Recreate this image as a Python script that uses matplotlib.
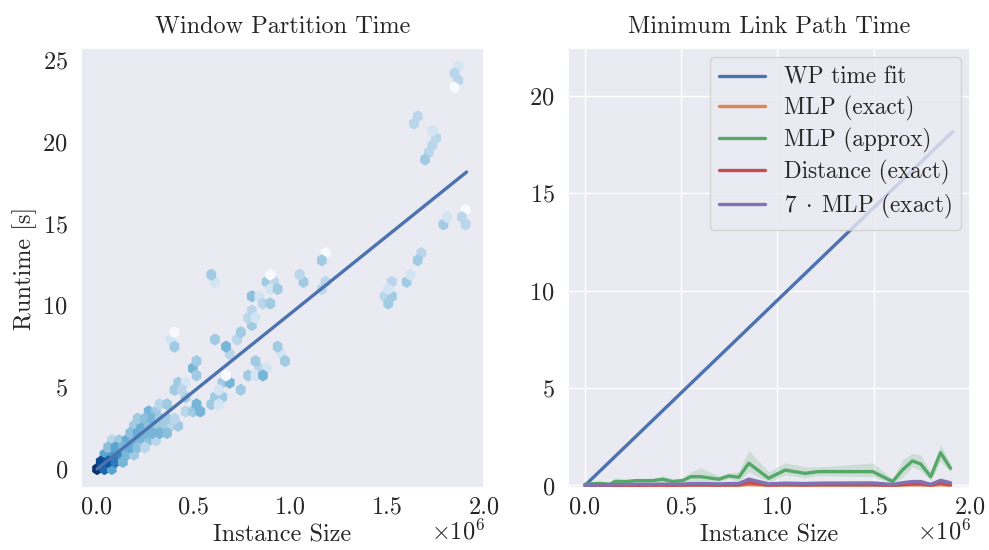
import numpy as np
import matplotlib
matplotlib.use("Agg")
import matplotlib.pyplot as plt
import seaborn as sns
from matplotlib.colors import LogNorm

# ---------------- data ----------------
# hexbin cells of the left panel: instance size (x 1e6), runtime [s], count
hex_x = [0.000, 0.038, 0.076,
         0.019, 0.057, 0.095, 0.133,
         0.038, 0.076, 0.114, 0.152, 0.190,
         0.057, 0.095, 0.133, 0.171, 0.210, 0.248,
         0.076, 0.114, 0.152, 0.190, 0.229, 0.267, 0.305,
         0.171, 0.210, 0.248, 0.286, 0.324, 0.362,
         0.190, 0.229, 0.267, 0.305, 0.343, 0.381, 0.419,
         0.210, 0.248, 0.286, 0.324, 0.362, 0.400,
         0.267, 0.305, 0.457, 0.495, 0.533,
         0.324, 0.362, 0.514, 0.590, 0.629,
         0.457, 0.610, 0.648,
         0.400, 0.438, 0.629, 0.743,
         0.419, 0.457, 0.648, 0.686,
         0.514, 0.667, 0.781, 0.819, 0.857,
         0.495, 0.838, 0.876,
         0.514, 0.819, 0.971,
         0.686, 0.952,
         0.400, 0.667, 0.933,
         0.381, 0.610, 0.724,
         0.400, 0.743,
         0.800,
         0.781, 0.819,
         0.800,
         0.857, 0.895,
         0.800, 0.838,
         0.895, 0.933, 1.162,
         0.610, 0.876, 0.914, 1.067, 1.181,
         0.590, 0.895, 1.048,
         1.162, 1.181,
         1.679, 1.660, 1.622, 1.601, 1.527, 1.507, 1.485, 1.527, 1.507,
         1.905, 1.811, 1.888, 1.794, 1.905,
         1.660, 1.639, 1.737, 1.759, 1.737, 1.716, 1.699,
         1.871, 1.850, 1.871, 1.850]
hex_y = [0.00, 0.00, 0.00,
         0.44, 0.44, 0.44, 0.44,
         0.88, 0.88, 0.88, 0.88, 0.88,
         1.32, 1.32, 1.32, 1.32, 1.32, 1.32,
         1.76, 1.76, 1.76, 1.76, 1.76, 1.76, 1.76,
         2.20, 2.20, 2.20, 2.20, 2.20, 2.20,
         2.64, 2.64, 2.64, 2.64, 2.64, 2.64, 2.64,
         3.08, 3.08, 3.08, 3.08, 3.08, 3.08,
         3.52, 3.52, 3.52, 3.52, 3.52,
         3.96, 3.96, 3.96, 3.96, 3.96,
         4.40, 4.40, 4.40,
         4.84, 4.84, 4.84, 4.84,
         5.28, 5.28, 5.28, 5.28,
         5.72, 5.72, 5.72, 5.72, 5.72,
         6.16, 6.16, 6.16,
         6.60, 6.60, 6.60,
         7.04, 7.04,
         7.48, 7.48, 7.48,
         7.92, 7.92, 7.92,
         8.36, 8.36,
         8.80,
         9.24, 9.24,
         9.68,
         10.12, 10.12,
         10.56, 10.56,
         11.00, 11.00, 11.00,
         11.44, 11.44, 11.44, 11.44, 11.44,
         11.88, 11.88, 11.88,
         12.76, 13.20,
         13.18, 12.73, 11.86, 11.39, 11.41, 10.94, 10.53, 10.53, 10.07,
         15.83, 15.38, 15.38, 14.91, 14.91,
         21.58, 21.09, 20.68, 20.21, 19.76, 19.34, 18.93,
         24.63, 24.18, 23.74, 23.31]
hex_n = [60, 20, 8,
         30, 25, 15, 6,
         8, 10, 12, 6, 4,
         5, 8, 6, 7, 5, 3,
         3, 4, 7, 6, 6, 5, 3,
         5, 7, 6, 6, 6, 5,
         4, 7, 5, 4, 4, 3, 4,
         4, 5, 6, 4, 4, 3,
         6, 4, 3, 4, 6,
         3, 4, 6, 4, 2,
         4, 4, 4,
         4, 3, 2, 4,
         4, 2, 4, 6,
         4, 1, 4, 2, 6,
         6, 3, 2,
         4, 4, 4,
         3, 2,
         4, 6, 4,
         2, 4, 3,
         1, 4,
         4,
         3, 2,
         3,
         3, 4,
         5, 2,
         2, 4, 3,
         2, 4, 3, 4, 3,
         4, 1, 3,
         4, 1,
         3, 4, 2, 4, 3, 2, 3, 4, 4,
         1, 2, 3, 4, 3,
         3, 3, 2, 3, 3, 3, 4,
         2, 3, 3, 1]

# linear fit of the window partition time
fit_x = [0.0, 1.91]
fit_y = [0.0, 18.15]

# right panel series (instance size x 1e6)
mlp_x = [0.000, 0.077, 0.129, 0.155, 0.215, 0.266, 0.352, 0.404, 0.455, 0.507,
         0.550, 0.601, 0.696, 0.747, 0.799, 0.851, 0.954, 1.040, 1.143, 1.211,
         1.495, 1.598, 1.649, 1.701, 1.744, 1.796, 1.847, 1.899]
approx = [0.06, 0.11, 0.06, 0.20, 0.20, 0.25, 0.25, 0.32, 0.20, 0.25,
          0.45, 0.45, 0.32, 0.49, 0.42, 1.14, 0.37, 0.79, 0.62, 0.71,
          0.71, 0.20, 0.79, 1.26, 1.10, 0.45, 1.68, 0.88]
approx_hi = [0.06, 0.15, 0.12, 0.40, 0.32, 0.35, 0.35, 0.50, 0.35, 0.40,
             0.70, 0.90, 0.50, 0.65, 0.70, 1.79, 0.70, 1.17, 0.95, 0.95,
             1.15, 0.35, 1.30, 1.65, 1.55, 0.70, 2.08, 1.10]
approx_lo = [0.06, 0.07, 0.02, 0.05, 0.10, 0.15, 0.15, 0.18, 0.08, 0.12,
             0.25, 0.22, 0.18, 0.35, 0.20, 0.71, 0.15, 0.54, 0.40, 0.50,
             0.45, 0.10, 0.40, 0.97, 0.75, 0.25, 1.22, 0.70]
mlp7 = [0.00, 0.03, 0.03, 0.05, 0.05, 0.06, 0.06, 0.07, 0.06, 0.07,
        0.10, 0.10, 0.08, 0.10, 0.10, 0.32, 0.08, 0.12, 0.10, 0.12,
        0.13, 0.05, 0.14, 0.20, 0.20, 0.06, 0.26, 0.14]
mlp7_hi = [0.00, 0.06, 0.06, 0.10, 0.10, 0.11, 0.11, 0.13, 0.11, 0.12,
           0.17, 0.17, 0.14, 0.17, 0.17, 0.48, 0.14, 0.19, 0.17, 0.19,
           0.21, 0.10, 0.23, 0.32, 0.30, 0.11, 0.40, 0.22]
mlp7_lo = [0.00, 0.01, 0.01, 0.02, 0.02, 0.02, 0.02, 0.03, 0.02, 0.03,
           0.05, 0.05, 0.03, 0.05, 0.05, 0.18, 0.03, 0.06, 0.05, 0.06,
           0.07, 0.02, 0.07, 0.10, 0.11, 0.02, 0.14, 0.07]
mlp_exact = [0.000, 0.004, 0.004, 0.007, 0.007, 0.009, 0.009, 0.010, 0.009, 0.010,
             0.014, 0.014, 0.011, 0.014, 0.014, 0.046, 0.011, 0.017, 0.014, 0.017,
             0.019, 0.007, 0.020, 0.029, 0.029, 0.009, 0.037, 0.020]
dist = [0.00, 0.01, 0.01, 0.01, 0.01, 0.01, 0.02, 0.02, 0.01, 0.02,
        0.03, 0.03, 0.02, 0.03, 0.03, 0.15, 0.02, 0.04, 0.03, 0.04,
        0.04, 0.01, 0.05, 0.08, 0.08, 0.02, 0.12, 0.02]

legend_labels = ["WP time fit", "MLP (exact)", "MLP (approx)",
                 "Distance (exact)", r"$7\;\cdot\;\mathrm{MLP}$ (exact)"]
x_tick_vals = [0, 0.5, 1.0, 1.5, 2.0]
offset_label = r"$\times10^{6}$"

# ---------------- style ----------------
sns.set_theme(style="darkgrid")
plt.rcParams["font.family"] = ["cmr10", "DejaVu Serif"]
plt.rcParams["mathtext.fontset"] = "cm"
plt.rcParams["axes.formatter.use_mathtext"] = True
plt.rcParams["axes.unicode_minus"] = False

pal = sns.color_palette("deep")
FS = 17.5

fig = plt.figure(figsize=(9.89, 5.5), dpi=100)
ax1 = fig.add_axes([81 / 989, 1 - 488 / 550, 403 / 989, 440 / 550])
ax2 = fig.add_axes([568 / 989, 1 - 488 / 550, 402 / 989, 440 / 550])

S = 1e6
hx = np.array(hex_x) * S
hy = np.array(hex_y)
hn = np.array(hex_n, dtype=float)

ax1.hexbin(hx, hy, C=hn, reduce_C_function=np.sum, gridsize=50,
           extent=(0, 1.905 * S, 0, 24.63), cmap="Blues",
           norm=LogNorm(vmin=1, vmax=45), linewidths=1.7, edgecolors="face")
ax1.plot(np.array(fit_x) * S, fit_y, color=pal[0], lw=2.4)
ax1.grid(False)
ax1.set_xlim(-0.083 * S, 1.995 * S)
ax1.set_ylim(-1.16, 25.73)
ax1.set_title("Window Partition Time", fontsize=FS, pad=11)
ax1.set_ylabel("Runtime [s]", fontsize=FS)
ax1.set_yticks([0, 5, 10, 15, 20, 25])

mx = np.array(mlp_x) * S
ax2.plot(np.array(fit_x) * S, fit_y, color=pal[0], lw=2.4, label=legend_labels[0])
ax2.plot(mx, mlp_exact, color=pal[1], lw=2.4, label=legend_labels[1])
ax2.fill_between(mx, approx_lo, approx_hi, color=pal[2], alpha=0.2, lw=0)
ax2.plot(mx, approx, color=pal[2], lw=2.4, label=legend_labels[2])
ax2.plot(mx, dist, color=pal[3], lw=2.4, label=legend_labels[3])
ax2.fill_between(mx, mlp7_lo, mlp7_hi, color=pal[4], alpha=0.2, lw=0)
ax2.plot(mx, mlp7, color=pal[4], lw=2.4, label=legend_labels[4])
ax2.set_xlim(-0.088 * S, 1.985 * S)
ax2.set_ylim(-0.13, 22.44)
ax2.set_title("Minimum Link Path Time", fontsize=FS, pad=11)
ax2.set_yticks([0, 5, 10, 15, 20])
ax2.legend(loc="upper right", fontsize=16.7, handlelength=2.0,
           labelspacing=0.3, borderaxespad=0.4)

for ax in (ax1, ax2):
    ax.set_xticks([v * S for v in x_tick_vals])
    ax.set_xticklabels([f"{v:.1f}" for v in x_tick_vals])
    ax.tick_params(labelsize=FS)
    ax.tick_params(axis="x", pad=0)
    ax.set_xlabel("Instance Size", fontsize=FS, labelpad=4)
    ax.annotate(offset_label, xy=(1.0, 0.0), xycoords="axes fraction",
                xytext=(1, -37), textcoords="offset points",
                ha="right", va="baseline", fontsize=FS)

fig.savefig("out.png", dpi=100)
